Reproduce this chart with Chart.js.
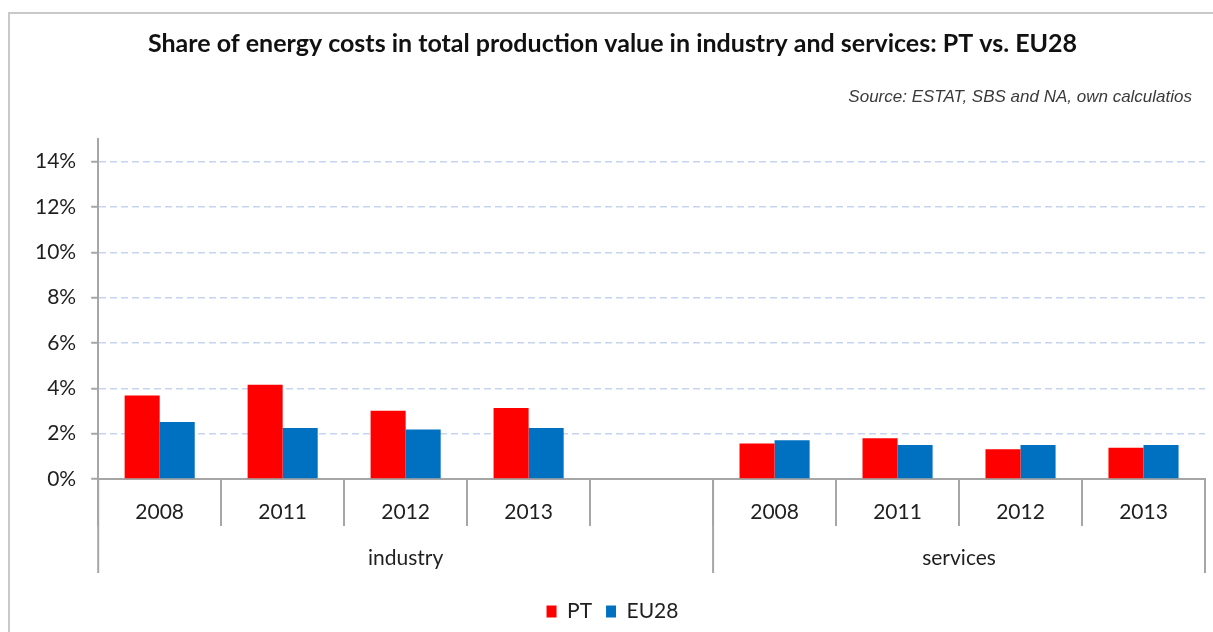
<!DOCTYPE html>
<html>
<head>
<meta charset="utf-8">
<title>Share of energy costs</title>
<script src="https://cdn.jsdelivr.net/npm/chart.js@4.4.0/dist/chart.umd.min.js"></script>
<style>
  html, body { margin: 0; padding: 0; background: #fff; overflow: hidden; }
  .frame { position: absolute; left: 8px; top: 12px; width: 1230px; height: 650px; border: 2px solid #c9c9c9; }
  .wrap { position: absolute; left: 0; top: 0; width: 1213px; height: 632px; }
</style>
</head>
<body>
<div class="frame"></div>
<div class="wrap"><canvas id="energyChart" width="1213" height="632"></canvas></div>
<script>
// categories (year per sector, empty slot separates the two sectors)
const years = ['2008', '2011', '2012', '2013', '', '2008', '2011', '2012', '2013'];
const sectors = ['industry', 'services'];
const sectorSizes = [5, 4];

// share of energy costs, %
const ptValues = [3.68, 4.16, 3.01, 3.13, null, 1.57, 1.80, 1.31, 1.38];
const eu28Values = [2.52, 2.25, 2.18, 2.25, null, 1.71, 1.50, 1.50, 1.50];

const yTicks = [0, 2, 4, 6, 8, 10, 12, 14];

const sourceText = 'Source: ESTAT, SBS and NA, own calculatios';

const axisGray = '#a6a6a6';
const textColor = '#1f1f1f';

// sector labels under the years, source note under the title
const sectorAxis = {
  id: 'sectorAxis',
  afterDraw(chart) {
    const ctx = chart.ctx;
    const x = chart.scales.x;
    const area = chart.chartArea;
    const half = (x.getPixelForValue(1) - x.getPixelForValue(0)) / 2;
    const top = area.bottom;
    const bottom = area.bottom + 94;

    ctx.save();
    ctx.strokeStyle = axisGray;
    ctx.lineWidth = 2;
    let start = 0;
    const edges = [x.getPixelForValue(0) - half];
    sectorSizes.forEach((n, i) => {
      const end = start + n - 1;
      const left = x.getPixelForValue(start) - half;
      const right = x.getPixelForValue(end) + half;
      edges.push(right);
      ctx.fillStyle = textColor;
      ctx.font = '21px Lato';
      ctx.textAlign = 'center';
      ctx.textBaseline = 'middle';
      ctx.fillText(sectors[i], (left + right) / 2, area.bottom + 79);
      start += n;
    });
    edges.forEach(e => {
      ctx.beginPath();
      ctx.moveTo(e, top);
      ctx.lineTo(e, bottom);
      ctx.stroke();
    });

    ctx.fillStyle = '#3a3a3a';
    ctx.font = 'italic 17px "Liberation Sans"';
    ctx.textAlign = 'right';
    ctx.textBaseline = 'middle';
    ctx.fillText(sourceText, 1192, 97);
    ctx.restore();
  }
};

const ctx = document.getElementById('energyChart').getContext('2d');

new Chart(ctx, {
  type: 'bar',
  data: {
    labels: years,
    datasets: [
      { label: 'PT', data: ptValues, backgroundColor: '#ff0000' },
      { label: 'EU28', data: eu28Values, backgroundColor: '#0070c0' }
    ]
  },
  options: {
    responsive: false,
    animation: false,
    layout: { padding: { top: 0, right: 8, bottom: 0, left: 20 } },
    datasets: {
      bar: { barPercentage: 1, categoryPercentage: 0.57 }
    },
    plugins: {
      title: {
        display: true,
        text: 'Share of energy costs in total production value in industry and services: PT vs. EU28',
        color: '#111',
        font: { family: 'Lato', size: 25, weight: 'bold' },
        padding: { top: 29, bottom: 80 }
      },
      legend: {
        position: 'bottom',
        labels: {
          color: textColor,
          font: { family: 'Lato', size: 21 },
          boxWidth: 10,
          boxHeight: 12,
          padding: 14
        }
      },
      tooltip: { enabled: false }
    },
    scales: {
      x: {
        offset: true,
        grid: {
          offset: true,
          drawOnChartArea: false,
          drawTicks: true,
          tickLength: 47,
          color: axisGray,
          lineWidth: 2
        },
        border: { color: axisGray, width: 2 },
        ticks: {
          color: textColor,
          font: { family: 'Lato', size: 21 },
          padding: -26,
          autoSkip: false,
          maxRotation: 0
        },
        afterFit(scale) { scale.height = 108; }
      },
      y: {
        min: 0,
        max: 15,
        afterBuildTicks(scale) {
          scale.ticks = yTicks.map(v => ({ value: v }));
        },
        grid: {
          color: '#c6d4ef',
          lineWidth: 1.5,
          tickColor: axisGray,
          tickLength: 7,
          tickWidth: 2
        },
        border: { color: axisGray, width: 2, dash: [7, 4] },
        ticks: {
          color: textColor,
          font: { family: 'Lato', size: 21 },
          padding: 15,
          callback: v => v + '%'
        }
      }
    }
  },
  plugins: [sectorAxis]
});
</script>
</body>
</html>
